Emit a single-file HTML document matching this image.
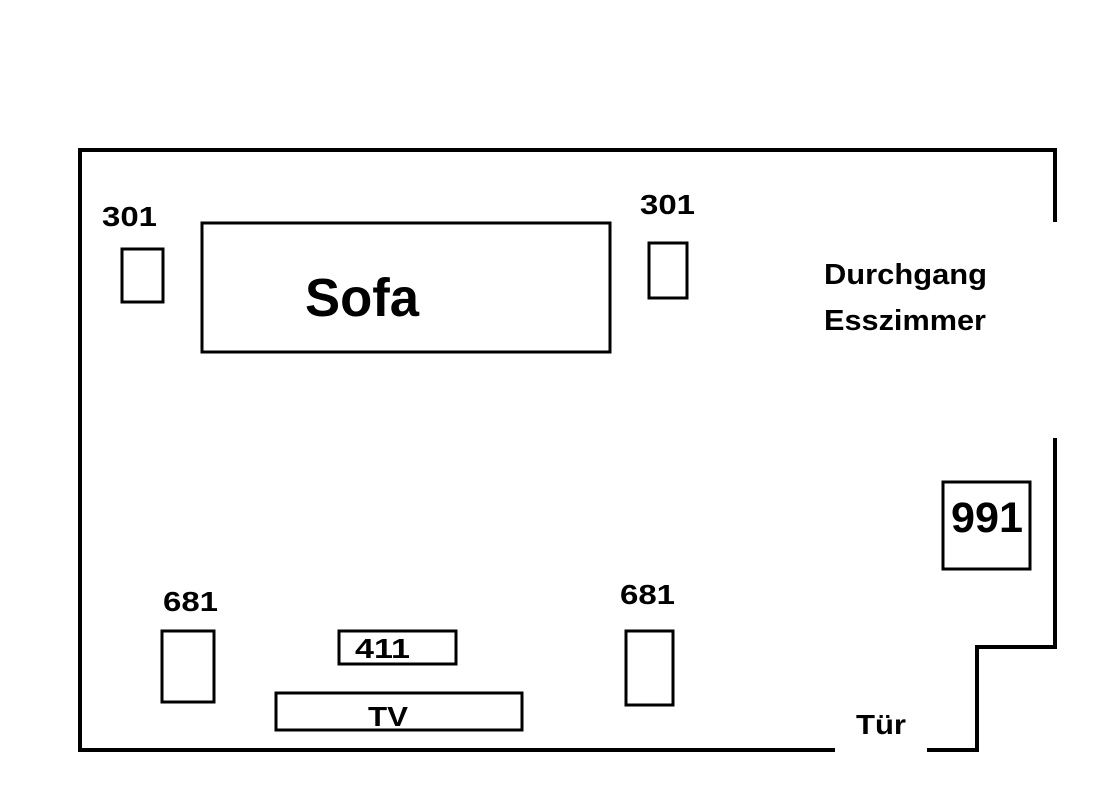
<!DOCTYPE html>
<html><head><meta charset="utf-8"><style>html,body{margin:0;padding:0;background:#fff}svg{display:block}</style></head>
<body>
<svg width="1105" height="799" viewBox="0 0 1105 799" xmlns="http://www.w3.org/2000/svg">
<g fill="none" stroke="#000" stroke-width="4">
<polyline points="1055,222 1055,150 80,150 80,750 835,750"/>
<polyline points="927,750 977,750 977,647 1055,647 1055,438"/>
<rect x="202" y="223" width="408" height="129" stroke-width="3"/>
<rect x="122" y="249" width="41" height="53" stroke-width="3"/>
<rect x="649" y="243" width="38" height="55" stroke-width="3"/>
<rect x="943" y="482" width="87" height="87" stroke-width="3"/>
<rect x="162" y="631" width="52" height="71" stroke-width="3"/>
<rect x="626" y="631" width="47" height="74" stroke-width="3"/>
<rect x="339" y="631" width="117" height="33" stroke-width="3"/>
<rect x="276" y="693" width="246" height="37" stroke-width="3"/>
</g>
<g font-family="Liberation Sans, sans-serif" font-weight="bold" fill="#000">
<text x="305" y="316" font-size="54" textLength="114" lengthAdjust="spacingAndGlyphs">Sofa</text>
<text x="102" y="226" font-size="28" textLength="55" lengthAdjust="spacingAndGlyphs">301</text>
<text x="640" y="214" font-size="28" textLength="55" lengthAdjust="spacingAndGlyphs">301</text>
<text x="824" y="284" font-size="29" textLength="163" lengthAdjust="spacingAndGlyphs">Durchgang</text>
<text x="824" y="330" font-size="29" textLength="162" lengthAdjust="spacingAndGlyphs">Esszimmer</text>
<text x="951" y="532" font-size="43" textLength="72" lengthAdjust="spacingAndGlyphs">991</text>
<text x="163" y="611" font-size="28" textLength="55" lengthAdjust="spacingAndGlyphs">681</text>
<text x="620" y="604" font-size="28" textLength="55" lengthAdjust="spacingAndGlyphs">681</text>
<text x="355" y="658" font-size="28" textLength="55" lengthAdjust="spacingAndGlyphs">411</text>
<text x="368" y="726" font-size="28" textLength="40" lengthAdjust="spacingAndGlyphs">TV</text>
<text x="856" y="734" font-size="28" textLength="50" lengthAdjust="spacingAndGlyphs">Tür</text>
</g>
</svg>
</body></html>
